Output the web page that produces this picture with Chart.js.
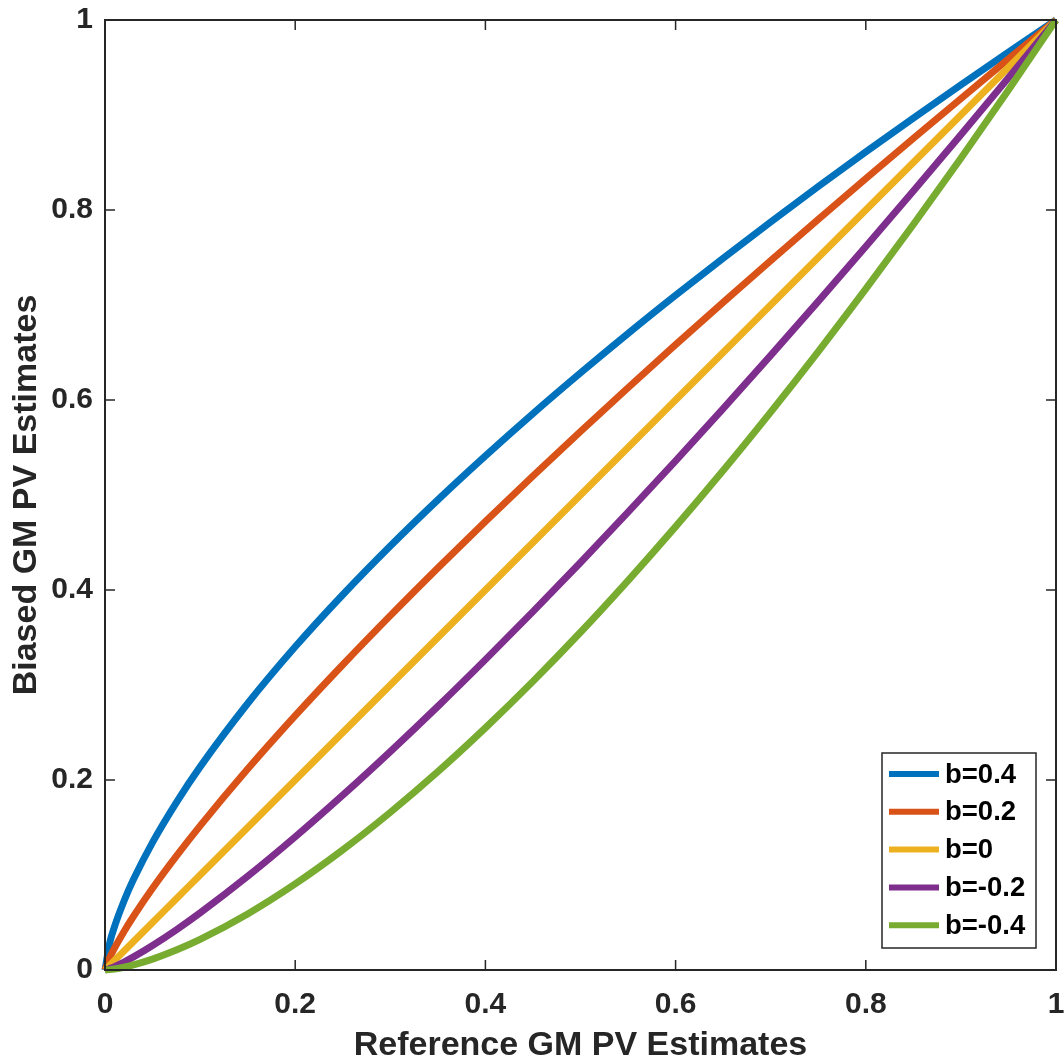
<!DOCTYPE html>
<html>
<head>
<meta charset="utf-8">
<title>Biased vs Reference GM PV Estimates</title>
<script src="https://cdn.jsdelivr.net/npm/chart.js@4/dist/chart.umd.min.js"></script>
<style>
  html, body { margin: 0; padding: 0; background: #ffffff; }
  canvas { display: block; }
</style>
</head>
<body>
<canvas id="chart" width="1064" height="1063"></canvas>
<script>
// Reference estimate grid (x axis)
const refValues = [0, 0.005, 0.01, 0.02, 0.03, 0.05, 0.075, 0.1, 0.15, 0.2, 0.25, 0.3, 0.35, 0.4, 0.45,
                   0.5, 0.55, 0.6, 0.65, 0.7, 0.75, 0.8, 0.85, 0.9, 0.95, 1];

// Biased estimates for each bias level b
const biasPos04 = [0, 0.0287, 0.0457, 0.0727, 0.0954, 0.1344, 0.1763, 0.2138, 0.2805, 0.3402, 0.3950, 0.4463, 0.4949,
                   0.5412, 0.5857, 0.6285, 0.6700, 0.7102, 0.7493, 0.7874, 0.8247, 0.8611, 0.8968, 0.9318, 0.9662, 1];
const biasPos02 = [0, 0.0130, 0.0230, 0.0406, 0.0566, 0.0860, 0.1198, 0.1517, 0.2115, 0.2677, 0.3213, 0.3730, 0.4232,
                   0.4722, 0.5200, 0.5669, 0.6129, 0.6582, 0.7027, 0.7467, 0.7901, 0.8330, 0.8754, 0.9173, 0.9589, 1];
const biasZero  = [0, 0.005, 0.01, 0.02, 0.03, 0.05, 0.075, 0.1, 0.15, 0.2, 0.25, 0.3, 0.35,
                   0.4, 0.45, 0.5, 0.55, 0.6, 0.65, 0.7, 0.75, 0.8, 0.85, 0.9, 0.95, 1];
const biasNeg02 = [0, 0.0016, 0.0036, 0.0084, 0.0138, 0.0258, 0.0423, 0.0601, 0.0986, 0.1401, 0.1840, 0.2299, 0.2775,
                   0.3267, 0.3772, 0.4290, 0.4820, 0.5360, 0.5910, 0.6470, 0.7038, 0.7615, 0.8200, 0.8792, 0.9393, 1];
const biasNeg04 = [0, 0.0004, 0.0010, 0.0029, 0.0054, 0.0115, 0.0210, 0.0322, 0.0590, 0.0906, 0.1264, 0.1659, 0.2088,
                   0.2549, 0.3038, 0.3555, 0.4099, 0.4667, 0.5258, 0.5873, 0.6510, 0.7169, 0.7847, 0.8545, 0.9263, 1];

const seriesLabels = ['b=0.4', 'b=0.2', 'b=0', 'b=-0.2', 'b=-0.4'];
const seriesValues = [biasPos04, biasPos02, biasZero, biasNeg02, biasNeg04];
const seriesColors = ['#0072BD', '#D95319', '#EDB120', '#7E2F8E', '#77AC30'];
const tickValues = [0, 0.2, 0.4, 0.6, 0.8, 1];

const AXIS_COLOR = '#262626';
const FONT_FAMILY = '"Liberation Sans", Arial, Helvetica, sans-serif';

function toPoints(ys) {
  return refValues.map((x, i) => ({ x: x, y: ys[i] }));
}

// Box around the plot area with inward ticks on all four sides
const axesBox = {
  id: 'axesBox',
  afterDatasetsDraw(chart) {
    const { ctx, chartArea: a, scales } = chart;
    const len = 10;
    ctx.save();
    ctx.strokeStyle = AXIS_COLOR;
    ctx.lineWidth = 1.5;
    ctx.beginPath();
    tickValues.forEach(v => {
      const px = scales.x.getPixelForValue(v);
      ctx.moveTo(px, a.bottom); ctx.lineTo(px, a.bottom - len);
      ctx.moveTo(px, a.top);    ctx.lineTo(px, a.top + len);
      const py = scales.y.getPixelForValue(v);
      ctx.moveTo(a.left, py);  ctx.lineTo(a.left + len, py);
      ctx.moveTo(a.right, py); ctx.lineTo(a.right - len, py);
    });
    ctx.stroke();
    ctx.lineWidth = 2;
    ctx.strokeRect(a.left, a.top, a.right - a.left, a.bottom - a.top);
    ctx.restore();
  }
};

// Legend box in the lower-right corner of the plot area
const insetLegend = {
  id: 'insetLegend',
  afterDraw(chart) {
    const { ctx, chartArea: a } = chart;
    const boxW = 154, boxH = 195;
    const boxX = a.right - 20 - boxW;
    const boxY = a.bottom - 22 - boxH;
    const rowH = 37.8;
    ctx.save();
    ctx.fillStyle = '#ffffff';
    ctx.fillRect(boxX, boxY, boxW, boxH);
    ctx.strokeStyle = AXIS_COLOR;
    ctx.lineWidth = 1.5;
    ctx.strokeRect(boxX, boxY, boxW, boxH);
    ctx.font = 'bold 27.5px ' + FONT_FAMILY;
    ctx.textBaseline = 'middle';
    ctx.textAlign = 'left';
    chart.data.datasets.forEach((ds, i) => {
      const cy = boxY + 21 + i * rowH;
      ctx.strokeStyle = ds.borderColor;
      ctx.lineWidth = 6;
      ctx.beginPath();
      ctx.moveTo(boxX + 7, cy);
      ctx.lineTo(boxX + 57, cy);
      ctx.stroke();
      ctx.fillStyle = '#000000';
      ctx.fillText(ds.label, boxX + 63, cy + 1);
    });
    ctx.restore();
  }
};

new Chart(document.getElementById('chart'), {
  type: 'line',
  data: {
    datasets: seriesLabels.map((label, i) => ({
      label: label,
      data: toPoints(seriesValues[i]),
      borderColor: seriesColors[i],
      backgroundColor: seriesColors[i],
      borderWidth: 7,
      pointRadius: 0,
      cubicInterpolationMode: 'monotone',
      fill: false,
      clip: 6,
      order: seriesLabels.length - i
    }))
  },
  options: {
    responsive: false,
    animation: false,
    devicePixelRatio: 1,
    layout: { padding: { top: 20, right: 8, left: 0, bottom: 0 } },
    plugins: {
      legend: { display: false },
      tooltip: { enabled: false }
    },
    scales: {
      x: {
        type: 'linear',
        min: 0, max: 1,
        afterFit(scale) {
          scale.height = 93;
          scale.paddingLeft = 0;
          scale.paddingRight = 0;
        },
        afterBuildTicks(scale) { scale.ticks = tickValues.map(v => ({ value: v })); },
        grid: { display: false, drawTicks: false },
        border: { display: false },
        ticks: {
          padding: 17,
          color: AXIS_COLOR,
          font: { family: FONT_FAMILY, size: 30, weight: 'bold' },
          maxRotation: 0,
          callback: v => String(parseFloat(v.toFixed(1)))
        },
        title: {
          display: true,
          text: 'Reference GM PV Estimates',
          color: AXIS_COLOR,
          font: { family: FONT_FAMILY, size: 34, weight: 'bold', lineHeight: 1.0 },
          padding: { top: 0, bottom: 0 }
        }
      },
      y: {
        type: 'linear',
        min: 0, max: 1,
        afterFit(scale) {
          scale.width = 105;
          scale.paddingTop = 0;
          scale.paddingBottom = 0;
        },
        afterBuildTicks(scale) { scale.ticks = tickValues.map(v => ({ value: v })); },
        grid: { display: false, drawTicks: false },
        border: { display: false },
        ticks: {
          padding: 12,
          color: AXIS_COLOR,
          font: { family: FONT_FAMILY, size: 30, weight: 'bold' },
          callback: v => String(parseFloat(v.toFixed(1)))
        },
        title: {
          display: true,
          text: 'Biased GM PV Estimates',
          color: AXIS_COLOR,
          font: { family: FONT_FAMILY, size: 34, weight: 'bold' },
          padding: { top: 6, bottom: 0 }
        }
      }
    }
  },
  plugins: [axesBox, insetLegend]
});
</script>
</body>
</html>
